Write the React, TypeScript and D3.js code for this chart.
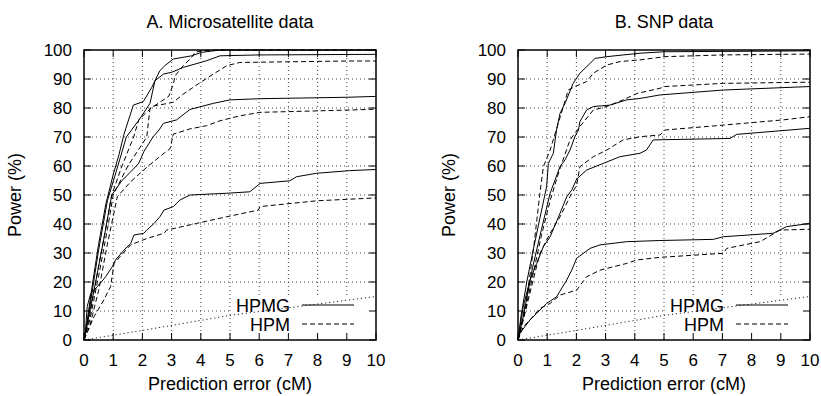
import React from "react";
import * as d3 from "d3";

type Pt = [number, number];

// ---------- Data ----------
const xTicks = [0, 1, 2, 3, 4, 5, 6, 7, 8, 9, 10];
const yTicks = [0, 10, 20, 30, 40, 50, 60, 70, 80, 90, 100];
const legendLabels = ["HPMG", "HPM"];
const panelTitles = ["A. Microsatellite data", "B. SNP data"];
const xLabel = "Prediction error (cM)";
const yLabel = "Power (%)";

// random expectation (dotted line)
const randomLine: Pt[] = [[0, 0], [2, 3.3], [5, 8.5], [10, 15]];

// Panel A: microsatellite
const A_HPMG_1: Pt[] = [[0,0],[0.1,6],[0.3,20],[0.5,33],[0.75,47],[1.0,57],[1.2,64],[1.37,71],[1.69,81],[2.03,82.2],[2.32,87.1],[2.6,92.9],[2.77,94.6],[3.06,96.9],[3.69,98],[4.03,99.2],[4.66,100],[10,100]];
const A_HPMG_2: Pt[] = [[0,0],[0.1,5],[0.3,18],[0.5,31],[0.8,48],[1.1,58],[1.45,70],[1.92,76.4],[2.26,81.6],[2.43,89.4],[2.72,91.7],[3.0,92.3],[3.4,94],[4.2,96.3],[4.66,98],[6,98.3],[10,98.5]];
const A_HPMG_3: Pt[] = [[0,0],[0.1,5],[0.4,20],[0.7,36],[0.95,50],[1.3,55],[1.6,58],[1.88,61],[2.05,65],[2.37,70.1],[2.57,72.4],[2.72,74.7],[3.17,75.9],[3.63,79.5],[4.43,81.6],[5,82.8],[6,83.2],[9,83.7],[10,84]];
const A_HPMG_4: Pt[] = [[0,0],[0.05,3],[0.11,11.5],[0.23,16.1],[0.46,18.4],[0.74,21.8],[0.97,25.3],[1.08,27.6],[1.37,31],[1.6,33.3],[1.71,36.2],[2.05,36.8],[2.15,37.9],[2.4,40.2],[2.6,42.5],[2.74,44.8],[3.06,46],[3.29,48.3],[3.63,50],[4.89,50.6],[5.68,51.1],[6.03,54],[7.05,54.9],[7.28,56.3],[7.97,57.5],[9.1,58.4],[10,58.8]];
const A_HPM_1: Pt[] = [[0,0],[0.15,6],[0.4,20],[0.7,36],[0.95,50],[1.3,60],[1.7,70],[1.88,76],[2.3,80],[2.9,84],[3.06,88.3],[3.12,91.1],[3.4,94.6],[3.69,97.5],[3.8,99.2],[4.09,99.8],[4.6,100],[10,100]];
const A_HPM_2: Pt[] = [[0,0],[0.2,7],[0.5,22],[0.8,38],[1.0,50],[1.5,60],[2.15,70],[2.26,80],[2.43,80.8],[2.77,81.4],[3.06,82],[3.4,84.8],[3.91,88.3],[4.43,91.7],[4.89,94.6],[5.34,95.7],[6.03,95.8],[9,96.2],[10,96.2]];
const A_HPM_3: Pt[] = [[0,0],[0.2,5],[0.5,17],[0.8,33],[1.14,49.4],[1.6,54.6],[2.2,60],[2.74,64.4],[2.95,66],[3.06,71],[3.63,72.8],[4.2,73.9],[4.66,75.6],[5.34,77.3],[6.03,78.5],[9.1,79.3],[10,79.6]];
const A_HPM_4: Pt[] = [[0,0],[0.34,8],[0.68,13.8],[0.91,18.4],[1.03,26.4],[1.14,27.6],[1.23,28.7],[1.48,31.5],[1.6,32.8],[2.15,35],[2.74,36.8],[2.83,37.9],[3.86,40.2],[4.89,42.5],[5.97,44.8],[6.03,46],[7.97,48],[9,48.5],[10,49]];

// Panel B: SNP
const B_HPMG_1: Pt[] = [[0,0],[0.1,8],[0.3,20],[0.5,30],[0.75,42],[0.98,52.9],[1.04,60.9],[1.21,64.4],[1.32,72.4],[1.44,78.2],[1.61,81.6],[1.89,88.5],[2.12,92],[2.47,95.4],[2.64,97.1],[3.04,97.7],[4.18,98.9],[5.03,99.4],[10,99.7]];
const B_HPMG_2: Pt[] = [[0,0],[0.2,9],[0.5,25],[0.8,38],[1.1,50.6],[1.27,55.2],[1.44,59.8],[1.61,62.1],[1.78,65.5],[1.95,70.1],[2.07,72.4],[2.12,75.3],[2.35,79.3],[2.58,80.5],[3.15,81],[3.72,82.8],[4.18,83.3],[4.86,84.5],[7.03,86.2],[10,87.4]];
const B_HPMG_3: Pt[] = [[0,0],[0.07,4.6],[0.18,11.5],[0.41,20.7],[0.64,26.4],[0.87,32.2],[1.1,35.6],[1.44,43.7],[1.67,49.4],[1.84,51.7],[2.01,55.5],[2.35,58.6],[2.92,60.9],[3.49,63.2],[4.18,64.4],[4.4,65.5],[4.63,69],[7.26,69.5],[7.49,70.9],[10,73]];
const B_HPMG_4: Pt[] = [[0,0],[0.07,2.4],[0.41,6.9],[0.64,9.2],[0.98,12.6],[1.32,14.9],[1.67,20.7],[1.84,24.1],[2.01,28.2],[2.47,31.6],[2.81,32.8],[3.72,33.9],[4.86,34.3],[6.69,34.7],[7.03,35.6],[8.74,36.8],[9.2,39.1],[10,40.2]];
const B_HPM_1: Pt[] = [[0,0],[0.15,7],[0.35,18],[0.55,33],[0.75,50.6],[0.87,59.8],[1.1,65.5],[1.55,80.4],[1.72,86.2],[1.95,87.4],[2.35,89.1],[2.58,92],[3.04,94.8],[3.49,96],[4.18,96.6],[5.03,97.7],[7.03,98.3],[10,98.6]];
const B_HPM_2: Pt[] = [[0,0],[0.2,8],[0.5,22],[0.8,36],[1.1,48],[1.4,58],[1.78,69],[2.12,73.6],[2.58,79.3],[3.04,80.5],[3.6,82.8],[4.07,85],[4.86,86.8],[5.03,87.4],[7.03,88.5],[10,88.9]];
const B_HPM_3: Pt[] = [[0,0],[0.18,6.9],[0.52,20.7],[0.75,29.9],[1.1,36.8],[1.44,42.5],[1.78,49.4],[2.01,53.4],[2.12,59.8],[2.58,63.2],[3.04,65.5],[3.6,69],[4.18,70.1],[4.86,70.7],[5.03,72.4],[7.03,74.1],[9.08,75.9],[10,77]];
const B_HPM_4: Pt[] = [[0,0],[0.18,4.6],[0.41,6.9],[0.75,10.9],[1.1,12.6],[1.44,15.5],[2.01,17.2],[2.35,21.8],[2.81,24.1],[3.72,26.4],[4.07,27.6],[4.86,28.5],[7.03,29.9],[7.15,31.6],[8.29,33.9],[8.97,37.9],[10,38.2]];

const panelA = { hpmg: [A_HPMG_1, A_HPMG_2, A_HPMG_3, A_HPMG_4], hpm: [A_HPM_1, A_HPM_2, A_HPM_3, A_HPM_4] };
const panelB = { hpmg: [B_HPMG_1, B_HPMG_2, B_HPMG_3, B_HPMG_4], hpm: [B_HPM_1, B_HPM_2, B_HPM_3, B_HPM_4] };

// ---------- Layout ----------
const W = 821;
const H = 396;
const FONT = "'Liberation Sans', Arial, Helvetica, sans-serif";
const TOP = 50;
const BOTTOM = 340;
const PLOT_W = 292;
const TICK = 7;
const DASH = "5,3";

function Panel({ left, title, data }: { left: number; title: string; data: { hpmg: Pt[][]; hpm: Pt[][] } }) {
  const x = d3.scaleLinear().domain([0, 10]).range([left, left + PLOT_W]);
  const y = d3.scaleLinear().domain([0, 100]).range([BOTTOM, TOP]);
  const line = d3.line<Pt>().x((d) => x(d[0])).y((d) => y(d[1]));
  const right = left + PLOT_W;
  const midX = (left + right) / 2;

  // legend geometry
  const lineEnd = right - 22;
  const lineStart = lineEnd - 52;
  const textEnd = lineStart - 12;
  const textStart = textEnd - 56;
  const leg1Y = 305;
  const leg2Y = 324;

  return (
    <g>
      {/* grid */}
      <g stroke="#444" strokeWidth={1} strokeDasharray="1,3">
        {xTicks.slice(1, -1).map((t) => (
          <line key={"gx" + t} x1={x(t)} x2={x(t)} y1={TOP} y2={BOTTOM} />
        ))}
        {yTicks.slice(1, -1).map((t) => (
          <line key={"gy" + t} x1={left} x2={right} y1={y(t)} y2={y(t)} />
        ))}
      </g>
      {/* legend background */}
      <rect x={textStart - 2} y={297} width={right - textStart + 2} height={BOTTOM - 297} fill="white" />
      {/* random expectation */}
      <path d={line(randomLine) || ""} fill="none" stroke="#222" strokeWidth={1} strokeDasharray="1.2,2.8" />
      {/* curves */}
      {data.hpm.map((s, i) => (
        <path key={"hpm" + i} d={line(s) || ""} fill="none" stroke="#000" strokeWidth={1} strokeDasharray={DASH} />
      ))}
      {data.hpmg.map((s, i) => (
        <path key={"hpmg" + i} d={line(s) || ""} fill="none" stroke="#000" strokeWidth={1} />
      ))}
      {/* ticks */}
      <g stroke="#000" strokeWidth={1}>
        {xTicks.map((t) => (
          <g key={"tx" + t}>
            <line x1={x(t)} x2={x(t)} y1={BOTTOM} y2={BOTTOM - TICK} />
            <line x1={x(t)} x2={x(t)} y1={TOP} y2={TOP + TICK} />
          </g>
        ))}
        {yTicks.map((t) => (
          <g key={"ty" + t}>
            <line x1={left} x2={left + TICK} y1={y(t)} y2={y(t)} />
            <line x1={right} x2={right - TICK} y1={y(t)} y2={y(t)} />
          </g>
        ))}
      </g>
      {/* border */}
      <rect x={left} y={TOP} width={PLOT_W} height={BOTTOM - TOP} fill="none" stroke="#000" strokeWidth={1.5} />
      {/* tick labels */}
      <g fontFamily={FONT} fontSize={17} fill="#000">
        {xTicks.map((t) => (
          <text key={"lx" + t} x={x(t)} y={366} textAnchor="middle">
            {t}
          </text>
        ))}
        {yTicks.map((t) => (
          <text key={"ly" + t} x={left - 12} y={y(t) + 6} textAnchor="end">
            {t}
          </text>
        ))}
      </g>
      {/* titles */}
      <text x={midX} y={28} textAnchor="middle" fontFamily={FONT} fontSize={18}>
        {title}
      </text>
      <text x={midX} y={390} textAnchor="middle" fontFamily={FONT} fontSize={18}>
        {xLabel}
      </text>
      <text
        transform={`translate(${left - 63},${(TOP + BOTTOM) / 2}) rotate(-90)`}
        textAnchor="middle"
        fontFamily={FONT}
        fontSize={18}
      >
        {yLabel}
      </text>
      {/* legend */}
      <g fontFamily={FONT} fontSize={18}>
        <text x={textEnd} y={leg1Y + 6.5} textAnchor="end">{legendLabels[0]}</text>
        <text x={textEnd} y={leg2Y + 6.5} textAnchor="end">{legendLabels[1]}</text>
      </g>
      <line x1={lineStart} x2={lineEnd} y1={leg1Y} y2={leg1Y} stroke="#000" strokeWidth={1} />
      <line x1={lineStart} x2={lineEnd} y1={leg2Y} y2={leg2Y} stroke="#000" strokeWidth={1} strokeDasharray={DASH} />
    </g>
  );
}

export default function App() {
  return (
    <svg
      width={W}
      height={H}
      viewBox={`0 0 ${W} ${H}`}
      style={{ position: "absolute", left: 0, top: 0, background: "white", display: "block" }}
    >
      <rect x={0} y={0} width={W} height={H} fill="white" />
      <Panel left={84} title={panelTitles[0]} data={panelA} />
      <Panel left={518} title={panelTitles[1]} data={panelB} />
    </svg>
  );
}
